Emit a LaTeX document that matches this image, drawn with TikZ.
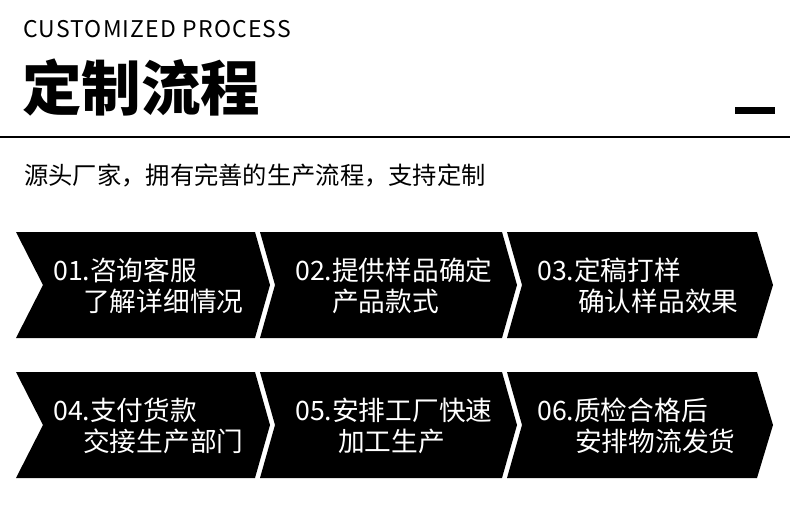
\documentclass[tikz,border=0pt]{standalone}
\usepackage{fontspec}
\setmainfont{Noto Sans CJK SC}
\usetikzlibrary{positioning}
\tikzset{
  chevbox/.style={fill=black},
  steptext/.style={anchor=base west,inner sep=0pt,text=white,
    font=\fontsize{26.7}{30}\selectfont},
  headtext/.style={anchor=base west,inner sep=0pt},
}

\begin{document}
\begin{tikzpicture}[x=1pt,y=-1pt]
  \useasboundingbox (0,0) rectangle (790,508);
  % header
  \node[headtext,font=\fontsize{23}{26}\selectfont\addfontfeatures{LetterSpace=5}] (entitle) at (23,38) {CUSTOMIZED PROCESS};
  \node[headtext,font=\fontsize{59.5}{64}\selectfont\bfseries] (title) at (22,111) {定制流程};
  \fill (735,107) rectangle (775,114);
  \draw[line width=2pt] (0,137) -- (790,137);
  \node[headtext,font=\fontsize{24.3}{28}\selectfont] (subtitle) at (24,185) {源头厂家，拥有完善的生产流程，支持定制};

  % first row
  \fill[chevbox] (16,232) -- (255,232) -- (270,285) -- (255,338) -- (16,338) -- (43,285) -- cycle;
  \fill[chevbox] (260,232) -- (502,232) -- (517,285) -- (502,338) -- (260,338) -- (275,285) -- cycle;
  \fill[chevbox] (507,232) -- (757,232) -- (773,285) -- (757,338) -- (507,338) -- (522,285) -- cycle;
  \node[steptext] (s1a) at (53,280) {01.咨询客服};
  \node[steptext] (s1b) at (83,311) {了解详细情况};
  \node[steptext] (s2a) at (295,280) {02.提供样品确定};
  \node[steptext] (s2b) at (332,311) {产品款式};
  \node[steptext] (s3a) at (537,280) {03.定稿打样};
  \node[steptext] (s3b) at (578,311) {确认样品效果};

  % second row
  \fill[chevbox] (16,372) -- (255,372) -- (270,425) -- (255,478) -- (16,478) -- (43,425) -- cycle;
  \fill[chevbox] (260,372) -- (502,372) -- (517,425) -- (502,478) -- (260,478) -- (275,425) -- cycle;
  \fill[chevbox] (507,372) -- (757,372) -- (773,425) -- (757,478) -- (507,478) -- (522,425) -- cycle;
  \node[steptext] (s4a) at (53,420) {04.支付货款};
  \node[steptext] (s4b) at (83,451) {交接生产部门};
  \node[steptext] (s5a) at (295,420) {05.安排工厂快速};
  \node[steptext] (s5b) at (338,451) {加工生产};
  \node[steptext] (s6a) at (537,420) {06.质检合格后};
  \node[steptext] (s6b) at (575,451) {安排物流发货};
\end{tikzpicture}
\end{document}
